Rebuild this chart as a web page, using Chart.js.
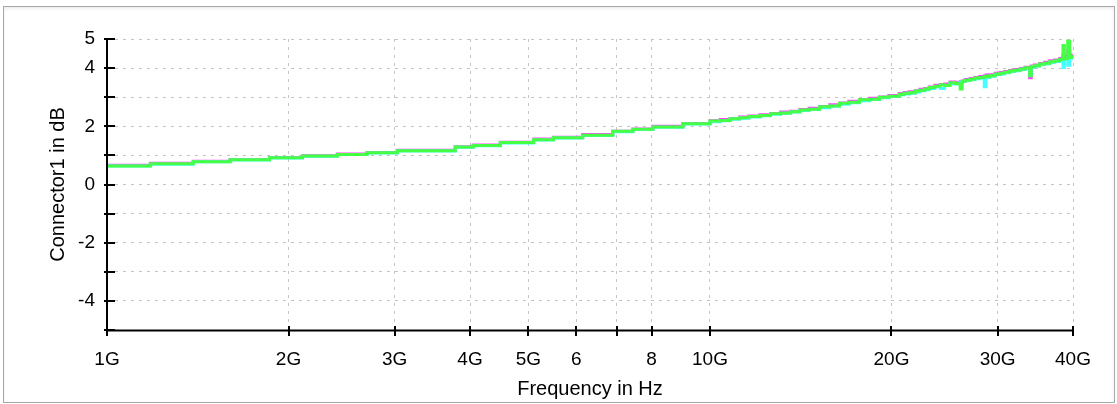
<!DOCTYPE html>
<html>
<head>
<meta charset="utf-8">
<title>Connector1 in dB</title>
<script src="https://cdn.jsdelivr.net/npm/chart.js@4"></script>
<style>
  body { margin: 0; background: #fff; }
  #wrap { position: relative; width: 1117px; height: 404px; }
  #frame {
    position: absolute; left: 3px; top: 6px; width: 1112px; height: 397px;
    box-sizing: border-box; border: 1px solid #a8a8a8;
    box-shadow: inset 0 2px 3px rgba(0,0,0,0.07);
    pointer-events: none;
  }
</style>
</head>
<body>
<div id="wrap">
  <canvas id="chart" width="1117" height="404"></canvas>
  <div id="frame"></div>
</div>
<script>
// ===== Data (frequency in GHz, values in dB) =====
const freqGHz = [
  1.00, 1.18, 1.39, 1.60, 1.86, 2.11, 2.41, 2.70, 3.03, 3.78, 4.05, 4.49, 5.10, 5.50, 6.15, 6.90, 7.45, 8.04, 9.02,
  10.0, 10.4, 10.8, 11.2, 11.6, 12.1, 12.6, 13.1, 13.6, 14.1, 14.6, 15.2, 15.8, 16.4, 17.0, 17.7, 18.4, 19.1, 19.8,
  20.6, 21.0, 21.4, 21.9, 22.3, 22.7, 23.1, 23.6, 24.1, 24.5, 25.0, 25.5, 26.0, 26.2, 26.5, 27.0, 27.5, 28.0, 28.5,
  28.7, 29.1, 29.7, 30.3, 30.8, 31.4, 32.0, 32.7, 33.3, 33.9, 34.1, 34.5, 35.2, 35.9, 36.6, 37.3, 38.0, 38.5, 38.7,
  39.0, 39.2, 39.5, 39.7, 40.0
];

const magentaDb = [
  0.66, 0.73, 0.80, 0.86, 0.93, 0.99, 1.05, 1.10, 1.18, 1.30, 1.36, 1.45, 1.56, 1.62, 1.72, 1.83, 1.91, 2.00, 2.10,
  2.19, 2.23, 2.27, 2.32, 2.35, 2.40, 2.44, 2.49, 2.52, 2.58, 2.62, 2.68, 2.74, 2.80, 2.86, 2.91, 2.96, 3.01, 3.06,
  3.13, 3.16, 3.19, 3.22, 3.27, 3.30, 3.35, 3.41, 3.44, 3.45, 3.52, 3.50, 3.54, 3.56, 3.61, 3.64, 3.68, 3.71, 3.74,
  3.76, 3.77, 3.82, 3.85, 3.88, 3.92, 3.95, 3.99, 4.03, 3.67, 4.07, 4.11, 4.16, 4.20, 4.25, 4.28, 4.33, 4.45, 4.36,
  4.40, 4.60, 4.44, 4.40, 4.48
];

const cyanDb = [
  0.64, 0.70, 0.78, 0.84, 0.91, 0.97, 1.03, 1.08, 1.15, 1.28, 1.33, 1.43, 1.53, 1.60, 1.68, 1.81, 1.89, 1.97, 2.08,
  2.16, 2.19, 2.24, 2.28, 2.32, 2.36, 2.41, 2.45, 2.49, 2.54, 2.58, 2.64, 2.69, 2.76, 2.81, 2.88, 2.92, 2.98, 3.02,
  3.08, 3.11, 3.14, 3.18, 3.22, 3.26, 3.30, 3.36, 3.30, 3.40, 3.46, 3.45, 3.52, 3.54, 3.57, 3.60, 3.63, 3.66, 3.36,
  3.68, 3.72, 3.78, 3.80, 3.84, 3.88, 3.91, 3.95, 3.99, 3.78, 4.03, 4.06, 4.12, 4.15, 4.20, 4.23, 4.28, 4.02, 4.30,
  4.31, 4.10, 4.38, 4.34, 4.42
];

const greenDb = [
  0.64, 0.71, 0.78, 0.85, 0.92, 0.98, 1.03, 1.09, 1.16, 1.29, 1.34, 1.44, 1.54, 1.61, 1.69, 1.83, 1.90, 1.98, 2.09,
  2.18, 2.20, 2.26, 2.29, 2.34, 2.37, 2.43, 2.46, 2.50, 2.56, 2.59, 2.67, 2.70, 2.79, 2.83, 2.91, 2.93, 3.00, 3.03,
  3.10, 3.14, 3.15, 3.21, 3.24, 3.28, 3.33, 3.38, 3.43, 3.40, 3.50, 3.47, 3.28, 3.55, 3.58, 3.62, 3.66, 3.68, 3.72,
  3.70, 3.74, 3.80, 3.82, 3.86, 3.90, 3.93, 3.97, 4.01, 3.74, 4.05, 4.08, 4.14, 4.17, 4.22, 4.25, 4.30, 4.78, 4.32,
  4.33, 4.92, 4.40, 4.36, 4.45
];

// ===== Axis ticks =====
const xTickValues = [1, 2, 3, 4, 5, 6, 7, 8, 10, 20, 30, 40];
const xTickLabels = ["1G", "2G", "3G", "4G", "5G", "6", "", "8", "10G", "20G", "30G", "40G"];
const yTickValues = [-5, -4, -3, -2, -1, 0, 1, 2, 3, 4, 5];
const yTickLabels = ["", "-4", "", "-2", "", "0", "", "2", "", "4", "5"];

const FONT = "Arial, 'Liberation Sans', sans-serif";

function toPoints(values) {
  return freqGHz.map((f, i) => ({ x: f, y: values[i] }));
}

function series(values, color, order) {
  return {
    data: toPoints(values),
    borderColor: color,
    borderWidth: 3,
    pointRadius: 0,
    stepped: true,
    order: order
  };
}

// Axis lines plus tick marks that cross the axis
const axisPlugin = {
  id: "axisTicks",
  afterDraw(chart) {
    const ctx = chart.ctx;
    const { left, right, top, bottom } = chart.chartArea;
    const xs = chart.scales.x, ys = chart.scales.y;
    ctx.save();
    ctx.strokeStyle = "#000";
    ctx.lineWidth = 2;
    ctx.beginPath();
    ctx.moveTo(left, top);
    ctx.lineTo(left, bottom + 0.5);
    ctx.lineTo(right, bottom + 0.5);
    ys.ticks.forEach(t => {
      const py = Math.round(ys.getPixelForValue(t.value));
      ctx.moveTo(left - 3, py);
      ctx.lineTo(left + 8, py);
    });
    xs.ticks.forEach(t => {
      const px = Math.round(xs.getPixelForValue(t.value));
      ctx.moveTo(px, bottom - 4);
      ctx.lineTo(px, bottom + 6);
    });
    ctx.stroke();
    ctx.restore();
  }
};

new Chart(document.getElementById("chart"), {
  type: "line",
  data: {
    datasets: [
      series(magentaDb, "#ff44ff", 2),
      series(cyanDb, "#44ffff", 1),
      series(greenDb, "#44ff44", 0)
    ]
  },
  options: {
    responsive: false,
    devicePixelRatio: 1,
    animation: false,
    layout: { padding: { left: 0, top: 39, right: 44, bottom: 0 } },
    plugins: { legend: { display: false }, tooltip: { enabled: false } },
    scales: {
      x: {
        type: "logarithmic",
        min: 1,
        max: 40,
        afterBuildTicks: s => { s.ticks = xTickValues.map(v => ({ value: v })); },
        afterFit: s => { s.height = 74; },
        ticks: {
          autoSkip: false,
          maxRotation: 0,
          padding: 18,
          color: "#000",
          font: { family: FONT, size: 19 },
          callback: (v, i) => xTickLabels[i]
        },
        grid: { color: "#c4c4c4", lineWidth: 1, drawTicks: false },
        border: { display: false, dash: [3, 5] },
        title: {
          display: true,
          text: "Frequency in Hz",
          color: "#000",
          font: { family: FONT, size: 20 },
          padding: { top: 0, bottom: 3 }
        }
      },
      y: {
        min: -5,
        max: 5,
        afterBuildTicks: s => { s.ticks = yTickValues.map(v => ({ value: v })); },
        afterFit: s => { s.width = 107; },
        ticks: {
          padding: 12,
          color: "#000",
          font: { family: FONT, size: 19 },
          callback: (v, i) => yTickLabels[i]
        },
        grid: { color: "#c4c4c4", lineWidth: 1, drawTicks: false },
        border: { display: false, dash: [3, 5] },
        title: {
          display: true,
          text: "Connector1 in dB",
          color: "#000",
          font: { family: FONT, size: 20 },
          padding: { top: 46, bottom: 0 }
        }
      }
    }
  },
  plugins: [axisPlugin]
});
</script>
</body>
</html>
